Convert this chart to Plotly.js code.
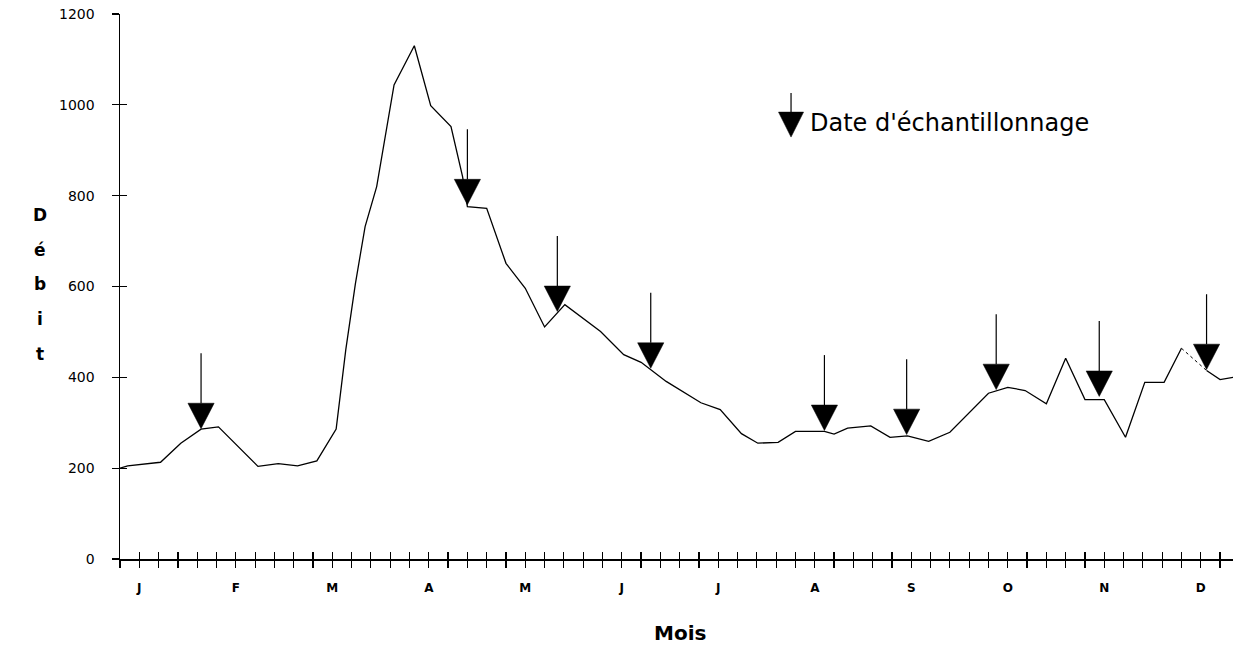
<!DOCTYPE html>
<html>
<head>
<meta charset="utf-8">
<script src="https://cdn.plot.ly/plotly-3.0.1.min.js"></script>
<style>
  html, body { margin: 0; padding: 0; background: #ffffff; }
  #chart { width: 1233px; height: 650px; }
</style>
</head>
<body>
<div id="chart"></div>
<script>
// ---- Data (week index from 1 January, discharge values) ----
const weeks = [0, 0.4, 2.1, 3.15, 4.2, 5.1, 7.15, 8.2, 9.2, 10.2, 11.2, 11.7, 12.2, 12.7, 13.3, 14.2, 15.25, 16.1, 17.15, 17.75, 18.0, 19.0, 20.0, 21.0, 22.0, 23.05, 24.9, 26.1, 27.0, 27.5, 28.3, 30.1, 31.1, 32.2, 33.05, 34.1, 35.0, 36.5, 37.0, 37.7, 38.9, 39.9, 40.8, 41.9, 43.0, 45.0, 46.0, 46.9, 48.0, 49.0, 50.0, 51.0, 52.1, 53.1, 54.1, 55.0, 56.3, 57.0, 57.7];
const debit = [200, 205, 213, 255, 286, 291, 204, 210, 205, 216, 286, 461, 607, 732, 820, 1044, 1130, 998, 952, 842, 776, 772, 651, 596, 511, 560, 501, 450, 433, 417, 391, 344, 329, 276, 255, 257, 281, 281, 275, 288, 293, 268, 271, 259, 279, 365, 378, 371, 342, 442, 351, 351, 268, 389, 389, 464, 415, 395, 400];
// index of the segment drawn dotted (faint in the original)
const dottedFrom = 55; // week 55.0 -> 56.3

// Sampling dates (arrow tips)
const sampleWeeks = [4.2, 18.0, 22.66, 27.5, 36.5, 40.76, 45.4, 50.74, 56.3];
const sampleDebit = [287, 780, 545, 420, 283, 274, 373, 358, 417];

// Axis labels
const monthLabels = ['J', 'F', 'M', 'A', 'M', 'J', 'J', 'A', 'S', 'O', 'N', 'D'];
const yTickVals = [0, 200, 400, 600, 800, 1000, 1200];
const yTitleLetters = ['D', 'é', 'b', 'i', 't'];
const legendText = "Date d'échantillonnage";
const xTitle = 'Mois';

// ---- Build axes ticks ----
const nWeekTicks = 58;
const weekTicks = [];
const weekText = [];
for (let i = 0; i < nWeekTicks; i++) {
  weekTicks.push(i);
  const m = (i - 1) / 5;
  weekText.push(Number.isInteger(m) && m >= 0 && m < monthLabels.length ? monthLabels[m] : '');
}

// ---- Arrow geometry (in axis units) ----
const triHalfW = 0.68;
const triH = 56;
const stemH = 110;

function arrowShapes(ws, vs, hw, th, sh) {
  const tx = [], ty = [], sx = [], sy = [];
  for (let i = 0; i < ws.length; i++) {
    const w = ws[i], v = vs[i];
    tx.push(w - hw, w + hw, w, w - hw, null);
    ty.push(v + th, v + th, v, v + th, null);
    sx.push(w, w, null);
    sy.push(v + th, v + th + sh, null);
  }
  return { tx, ty, sx, sy };
}

const arr = arrowShapes(sampleWeeks, sampleDebit, triHalfW, triH, stemH);
// legend arrow
const legendArr = arrowShapes([34.77], [929], 0.65, 55, 42);

const iDot = weeks.indexOf(dottedFrom);

const traces = [
  {
    x: weeks.slice(0, iDot + 1), y: debit.slice(0, iDot + 1), type: 'scatter', mode: 'lines',
    line: { color: '#000', width: 1.3 }, hoverinfo: 'skip', showlegend: false
  },
  {
    x: weeks.slice(iDot, iDot + 2), y: debit.slice(iDot, iDot + 2), type: 'scatter', mode: 'lines',
    line: { color: '#000', width: 1, dash: 'dot' }, hoverinfo: 'skip', showlegend: false
  },
  {
    x: weeks.slice(iDot + 1), y: debit.slice(iDot + 1), type: 'scatter', mode: 'lines',
    line: { color: '#000', width: 1.3 }, hoverinfo: 'skip', showlegend: false
  },
  {
    x: arr.sx, y: arr.sy, type: 'scatter', mode: 'lines',
    line: { color: '#000', width: 1.2 }, hoverinfo: 'skip', showlegend: false
  },
  {
    x: arr.tx, y: arr.ty, type: 'scatter', mode: 'lines', fill: 'toself',
    fillcolor: '#000', line: { color: '#000', width: 0.5 }, hoverinfo: 'skip', showlegend: false
  },
  {
    x: legendArr.sx, y: legendArr.sy, type: 'scatter', mode: 'lines',
    line: { color: '#000', width: 1.2 }, hoverinfo: 'skip', showlegend: false
  },
  {
    x: legendArr.tx, y: legendArr.ty, type: 'scatter', mode: 'lines', fill: 'toself',
    fillcolor: '#000', line: { color: '#000', width: 0.5 }, hoverinfo: 'skip', showlegend: false
  },
  {
    x: [0], y: [0], xaxis: 'x2', yaxis: 'y2', type: 'scatter', mode: 'markers',
    marker: { opacity: 0 }, hoverinfo: 'skip', showlegend: false
  }
];

const xRange = [0, 57.67];
const yRange = [0, 1200];

const annotations = [];
yTitleLetters.forEach((ch, i) => {
  annotations.push({
    xref: 'paper', yref: 'paper', x: -0.072, y: 0.631 - i * 0.0636,
    text: ch, showarrow: false, xanchor: 'center', yanchor: 'middle',
    font: { family: 'DejaVu Sans', size: 17, color: '#000', weight: 'bold' }
  });
});
annotations.push({
  xref: 'paper', yref: 'paper', x: 0.503, y: -0.136,
  text: '<b>' + xTitle + '</b>', showarrow: false, xanchor: 'center', yanchor: 'middle',
  font: { family: 'DejaVu Sans', size: 20, color: '#000' }
});
annotations.push({
  xref: 'x', yref: 'y', x: 35.65, y: 960,
  text: legendText, showarrow: false, xanchor: 'left', yanchor: 'middle',
  font: { family: 'DejaVu Sans', size: 24, color: '#000' }
});

const layout = {
  width: 1233, height: 650,
  margin: { l: 120, r: 0, t: 14, b: 91 },
  paper_bgcolor: '#fff', plot_bgcolor: '#fff',
  showlegend: false,
  font: { family: 'DejaVu Sans', color: '#000' },
  xaxis: {
    range: xRange, tickmode: 'array', tickvals: weekTicks, ticktext: weekText,
    ticks: 'outside', ticklen: 7, tickwidth: 1.2, tickcolor: '#000',
    showline: true, linecolor: '#000', linewidth: 1.5,
    showgrid: false, zeroline: false, ticklabelstandoff: 10,
    tickfont: { family: 'DejaVu Sans', size: 12, color: '#000', weight: 'bold' }
  },
  xaxis2: {
    range: xRange, overlaying: 'x', anchor: 'y2', side: 'bottom',
    tickmode: 'array', tickvals: weekTicks,
    ticks: 'inside', ticklen: 7, tickwidth: 1.2, tickcolor: '#000',
    showticklabels: false, showline: false, showgrid: false, zeroline: false
  },
  yaxis: {
    range: yRange, tickmode: 'array', tickvals: yTickVals,
    ticks: 'outside', ticklen: 7, tickwidth: 1.2, tickcolor: '#000',
    showline: true, linecolor: '#000', linewidth: 1.5,
    showgrid: false, zeroline: false, ticklabelstandoff: 14,
    tickfont: { family: 'DejaVu Sans', size: 14, color: '#000' }
  },
  yaxis2: {
    range: yRange, overlaying: 'y', anchor: 'x2', side: 'left',
    tickmode: 'array', tickvals: yTickVals,
    ticks: 'inside', ticklen: 7, tickwidth: 1.2, tickcolor: '#000',
    showticklabels: false, showline: false, showgrid: false, zeroline: false
  },
  annotations: annotations
};

Plotly.newPlot('chart', traces, layout, { staticPlot: true, displayModeBar: false });
</script>
</body>
</html>
